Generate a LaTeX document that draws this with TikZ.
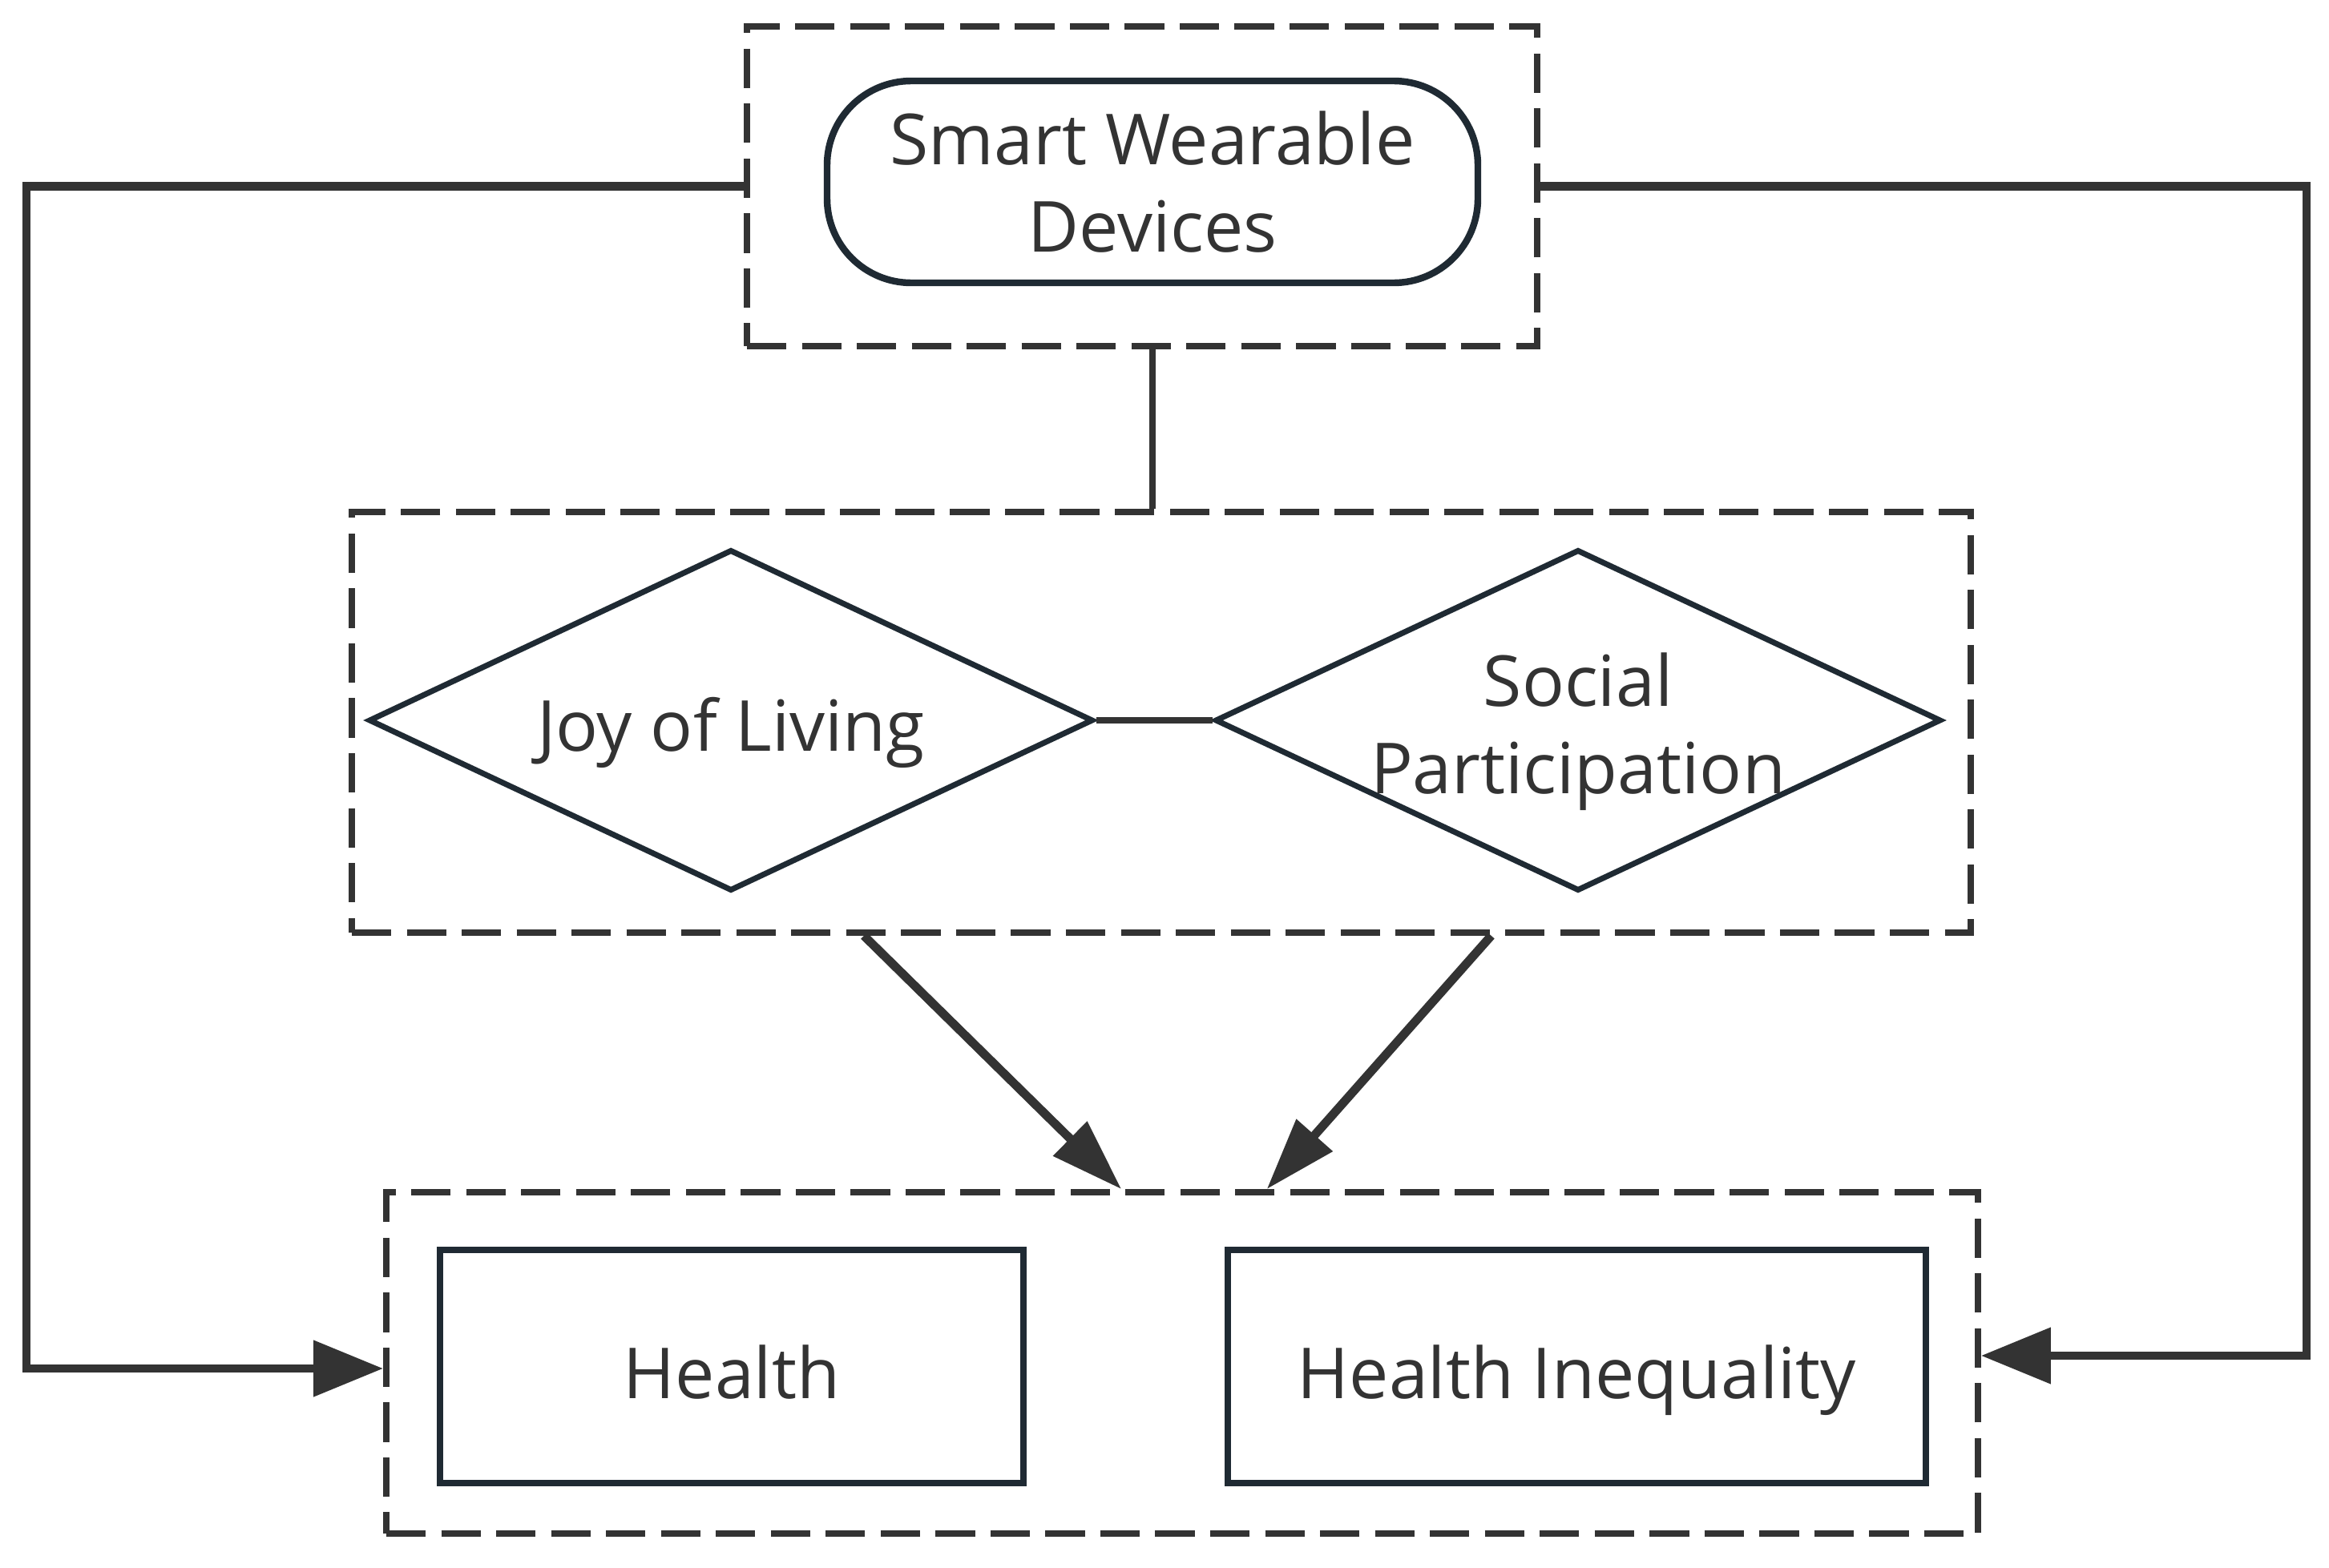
\documentclass[tikz,border=0pt]{standalone}
\usepackage{fontspec}
\setmainfont{Open Sans}
\usetikzlibrary{arrows.meta,shapes.geometric,calc}
\definecolor{linegray}{HTML}{333333}
\definecolor{boxnavy}{HTML}{1F2A33}

\begin{document}
\begin{tikzpicture}[
    font=\fontsize{25}{31}\selectfont,
    text=linegray,
    dashbox/.style={draw=linegray,line width=2.2pt,dash pattern=on 14pt off 5.5pt},
    pill/.style={draw=boxnavy,line width=2.4pt,rectangle,rounded corners=1.05cm,align=center},
    dia/.style={draw=boxnavy,line width=2pt,diamond,inner sep=0pt},
    outbox/.style={draw=boxnavy,line width=2.4pt,rectangle,text height=23pt,text depth=0pt},
    conn/.style={draw=linegray,line width=3.1pt},
    thinconn/.style={draw=linegray,line width=2.2pt},
    bigtip/.style={-{Triangle[length=0.87cm,width=0.68cm]}},
    slimtip/.style={-{Triangle[length=0.9cm,width=0.58cm]}}
]
\useasboundingbox (0,0) rectangle (29.06,-19.57);

% top: devices
\node[dashbox,minimum width=9.86cm,minimum height=3.99cm] (topbox) at (14.25,-2.325) {};
\node[pill,minimum width=8.12cm,minimum height=2.52cm] (swd) at (14.38,-2.27) {Smart Wearable\\Devices};

% middle: mediators
\node[dashbox,minimum width=20.2cm,minimum height=5.25cm] (midbox) at (14.49,-9.015) {};
\node[dia,minimum width=9.04cm,minimum height=4.26cm,label={[yshift=-0.15cm]center:Joy of Living}] (joy) at (9.12,-8.99) {};
\node[dia,minimum width=9.06cm,minimum height=4.26cm,label={[align=center,yshift=-0.14cm]center:Social\\Participation}] (social) at (19.69,-8.99) {};

% bottom: outcomes
\node[dashbox,minimum width=19.86cm,minimum height=4.26cm] (botbox) at (14.75,-17.01) {};
\node[outbox,minimum width=7.28cm,minimum height=2.91cm] (health) at (9.13,-17.055) {Health};
\node[outbox,minimum width=8.71cm,minimum height=2.91cm] (inequal) at (19.675,-17.055) {Health Inequality};

\coordinate (lturn) at (0.33,0);
\coordinate (rturn) at (28.78,0);

\draw[thinconn] (swd |- topbox.south) -- (swd |- midbox.north);
\draw[thinconn] (joy.east) -- (social.west);
\draw[conn,slimtip] ($(midbox.south west)!0.317!(midbox.south east)$) -- ($(botbox.north west)!0.462!(botbox.north east)$);
\draw[conn,slimtip] ($(midbox.south west)!0.703!(midbox.south east)$) -- ($(botbox.north west)!0.553!(botbox.north east)$);
\draw[conn,bigtip] (topbox.west) -- (topbox.west -| lturn) |- ($(botbox.west)+(0,-0.07)$);
\draw[conn,bigtip] (topbox.east) -- (topbox.east -| rturn) |- ($(botbox.east)+(0,0.09)$);
\end{tikzpicture}
\end{document}
